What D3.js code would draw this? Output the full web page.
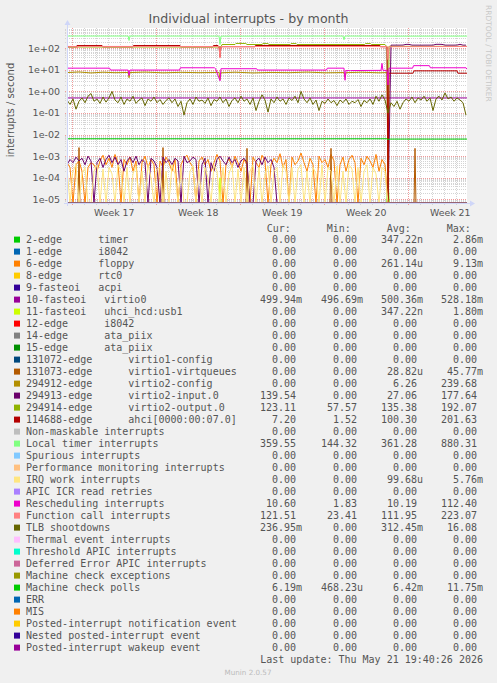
<!DOCTYPE html>
<html><head><meta charset="utf-8">
<script src="https://cdn.jsdelivr.net/npm/d3@7"></script>
<style>
html,body{margin:0;padding:0;background:#f0f0f0;}
svg{display:block;}
text{font-family:"DejaVu Sans",sans-serif;}
.mono{font-family:"DejaVu Sans Mono",monospace;font-size:10px;fill:#555;}
</style></head><body>
<svg id="c" width="497" height="683"></svg>
<script>
// ---------- DATA ----------
const titleText = "Individual interrupts - by month";
const yAxisLabel = "interrupts / second";
const yTickValues = [1e-5, 1e-4, 1e-3, 1e-2, 1e-1, 1e0, 1e1, 1e2];
const yTickLabels = ["1e-05","1e-04","1e-03","1e-02","1e-01","1e+00","1e+01","1e+02"];
const startTime = Date.UTC(2026, 3, 18, 13, 30);
const endTime = Date.UTC(2026, 4, 21, 21, 30);

const legendLabels = [
 "2-edge      timer","1-edge      i8042","6-edge      floppy","8-edge      rtc0","9-fasteoi   acpi",
 "10-fasteoi   virtio0","11-fasteoi   uhci_hcd:usb1","12-edge      i8042","14-edge      ata_piix","15-edge      ata_piix",
 "131072-edge      virtio1-config","131073-edge      virtio1-virtqueues","294912-edge      virtio2-config",
 "294913-edge      virtio2-input.0","294914-edge      virtio2-output.0","114688-edge      ahci[0000:00:07.0]",
 "Non-maskable interrupts","Local timer interrupts","Spurious interrupts","Performance monitoring interrupts",
 "IRQ work interrupts","APIC ICR read retries","Rescheduling interrupts","Function call interrupts","TLB shootdowns",
 "Thermal event interrupts","Threshold APIC interrupts","Deferred Error APIC interrupts","Machine check exceptions",
 "Machine check polls","ERR","MIS","Posted-interrupt notification event","Nested posted-interrupt event",
 "Posted-interrupt wakeup event"];
const legendColors = ["#00CC00","#0066B3","#FF8000","#FFCC00","#330099","#990099","#CCFF00","#FF0000","#808080","#008F00",
 "#00487D","#B35A00","#B38F00","#6B006B","#8FB300","#B30000","#BEBEBE","#80FF80","#80C9FF","#FFC080","#FFE680",
 "#AA80FF","#EE00CC","#FF8080","#666600","#FFBFFF","#00FFCC","#CC6699","#999900","#00CC00","#0066B3","#FF8000",
 "#FFCC00","#330099","#990099"];
const curVals = ["0.00","0.00","0.00","0.00","0.00","499.94m","0.00","0.00","0.00","0.00","0.00","0.00","0.00","139.54","123.11","7.20","0.00","359.55","0.00","0.00","0.00","0.00","10.60","121.51","236.95m","0.00","0.00","0.00","0.00","6.19m","0.00","0.00","0.00","0.00","0.00"];
const minVals = ["0.00","0.00","0.00","0.00","0.00","496.69m","0.00","0.00","0.00","0.00","0.00","0.00","0.00","0.00","57.57","1.52","0.00","144.32","0.00","0.00","0.00","0.00","1.83","23.41","0.00","0.00","0.00","0.00","0.00","468.23u","0.00","0.00","0.00","0.00","0.00"];
const avgVals = ["347.22n","0.00","261.14u","0.00","0.00","500.36m","347.22n","0.00","0.00","0.00","0.00","28.82u","6.26","27.06","135.38","100.30","0.00","361.28","0.00","0.00","99.68u","0.00","10.19","111.95","312.45m","0.00","0.00","0.00","0.00","6.42m","0.00","0.00","0.00","0.00","0.00"];
const maxVals = ["2.86m","0.00","9.13m","0.00","0.00","528.18m","1.80m","0.00","0.00","0.00","0.00","45.77m","239.68","177.64","192.07","201.63","0.00","880.31","0.00","0.00","5.76m","0.00","112.40","223.07","16.08","0.00","0.00","0.00","0.00","11.75m","0.00","0.00","0.00","0.00","0.00"];

// sample grid for noisy series: one sample every 6 hours (days from start)
const gridDays = d3.range(134).map(i => i * 0.25);

const tlbVals = [
 0.40,0.25,0.45,0.15,0.35,0.50,0.30,0.60,0.80,0.35,
 0.45,0.28,0.55,0.32,0.50,1.00,0.40,0.30,0.55,0.25,
 0.45,0.35,0.60,0.28,0.40,0.50,0.22,0.45,0.35,0.55,
 0.30,0.42,0.25,0.38,0.50,0.30,0.45,0.20,0.35,0.08,
 0.30,0.45,0.25,0.55,0.35,0.40,0.28,0.50,0.22,0.42,
 0.35,0.55,0.30,0.45,0.20,0.38,0.50,0.30,0.60,0.35,
 0.45,0.25,0.50,0.13,0.35,0.70,0.40,0.11,0.45,0.30,
 0.55,0.35,0.45,0.25,0.50,0.38,0.60,0.30,1.00,0.45,
 0.30,0.50,0.25,0.40,0.13,0.35,0.28,0.45,0.30,0.38,
 0.22,0.40,0.30,0.45,0.25,0.35,0.30,0.42,0.20,0.38,
 0.30,0.45,0.25,0.60,0.35,0.70,0.40,0.10,
 0.30,0.20,0.35,0.15,0.30,0.45,0.35,0.55,0.30,0.50,0.40,0.60,
 0.35,0.50,0.13,0.45,0.60,0.40,0.85,0.45,0.55,0.35,0.50,0.40,0.30,0.08];

const floppyVals = [
 5e-4,3e-4,0,4e-4,6e-4,2e-4,0,3e-4,5e-4,4e-4,
 2e-4,6e-4,1.1e-3,4e-4,8e-4,3e-4,1.2e-3,5e-4,0,7e-4,
 4e-4,9e-4,2e-4,6e-4,0,5e-4,1e-3,3e-4,7e-4,4e-4,
 0,6e-4,3e-4,9e-4,5e-4,2e-4,7e-4,0,4e-4,8e-4,
 1.1e-3,5e-4,3e-4,0,6e-4,9e-4,4e-4,7e-4,2e-4,5e-4,
 1.2e-3,6e-4,0,4e-4,8e-4,3e-4,1e-3,5e-4,2e-4,7e-4,
 4e-4,0,9e-4,5e-4,3e-4,1.1e-3,6e-4,0,4e-4,8e-4,
 5e-4,1.3e-3,3e-4,7e-4,0,9e-4,4e-4,6e-4,1.4e-3,5e-4,
 2e-4,8e-4,4e-4,0,1e-3,5e-4,7e-4,3e-4,1.2e-3,6e-4,
 0,4e-4,9e-4,2e-4,7e-4,1.1e-3,5e-4,0,8e-4,4e-4,
 1e-3,6e-4,3e-4,1.2e-3,2e-4,7e-4,4e-4,
 0,0,0,0,0,0,0,0,0,0,0,0,0,0,0,0,0,0,0,0,0,0,0,0,0,0,0];

const irqWorkVals = [
 3e-4,0,2e-4,4e-4,0,1.5e-4,3e-4,0,0,2e-4,
 4e-4,0,2.5e-4,0,3e-4,1.5e-4,0,4e-4,2e-4,0,
 3e-4,0,1.5e-4,3.5e-4,0,2e-4,0,4e-4,1e-4,0,
 2.5e-4,3e-4,0,2e-4,0,4e-4,1.5e-4,0,3e-4,0,
 0,2e-4,3.5e-4,0,2.5e-4,0,3e-4,1e-4,0,4e-4,
 2e-4,0,3e-4,0,1.5e-4,4e-4,0,2.5e-4,0,3e-4,
 0,2e-4,4e-4,0,3e-4,0,1.5e-4,3.5e-4,0,2e-4,
 3e-4,0,4e-4,2e-4,0,3e-4,0,2.5e-4,4e-4,0,
 2e-4,0,3e-4,1.5e-4,0,4e-4,0,3e-4,2e-4,0,
 3.5e-4,0,2e-4,0,4e-4,2.5e-4,0,3e-4,0,2e-4,
 4e-4,0,3e-4,1.5e-4,0,3e-4,2e-4,
 0,0,0,0,0,0,0,0,0,0,0,0,0,0,0,0,0,0,0,0,0,0,0,0,0,0,0];

const virtio2InputVals = [
 4e-4,7e-4,5e-4,9e-4,6e-4,8e-4,4e-4,1e-3,6e-4,0,
 5e-4,8e-4,3e-4,7e-4,1.1e-3,5e-4,9e-4,4e-4,7e-4,2e-4,
 6e-4,9e-4,5e-4,1e-3,4e-4,7e-4,5e-4,0,8e-4,6e-4,
 3e-4,0,9e-4,5e-4,7e-4,4e-4,8e-4,6e-4,0,1e-3,
 5e-4,6e-4,9e-4,7e-4,0,4e-4,8e-4,0,5e-4,2e-4,
 7e-4,1e-3,6e-4,4e-4,9e-4,5e-4,7e-4,3e-4,6e-4,8e-4,
 5e-4,0,0,6e-4,8e-4,4e-4,9e-4,5e-4,7e-4,3e-4,
 0,0,0,0,0,0,0,0,0,0,0,0,0,0,0,0,0,0,0,0,
 0,0,0,0,0,0,0,0,0,0,0,0,0,0,0,0,0,0,
 140,140,140,140,141,152,152,140,140,140,139,140,140,140,140,153,153,152,140,140,140,140,141,153,140,140];

// sparse series: [days from start], [values]
const localTimerDays = [0, 5.1, 5.17, 5.25, 12.67, 12.75, 12.83, 23.0, 23.08, 23.17, 26.75, 33.34];
const localTimerVals = [370, 370, 230, 370, 368, 150, 365, 370, 250, 370, 365, 368];
const funcCallDays = [0, 0.8, 0.85, 0.9, 12.67, 12.75, 12.83, 26.67, 26.75, 26.83, 33.34];
const funcCallVals = [122, 122, 100, 122, 121, 35, 121, 120, 30, 118, 121];
const ahciDays = [0, 0.8, 0.83, 2.92, 2.95, 5.5, 5.53, 9.42, 9.45, 12.17, 12.2, 12.58, 12.67, 12.75, 12.83, 15.67, 15.7, 26.08, 26.12, 26.67, 26.75, 26.83, 28.83, 28.92, 32.5, 32.58, 33.34];
const ahciVals = [118, 118, 135, 135, 118, 118, 135, 135, 118, 118, 135, 135, 118, 40, 118, 118, 135, 135, 118, 118, 0, 7, 7, 9, 9, 7, 7];
const virtio2OutDays = [0, 12.83, 12.92, 14.0, 14.08, 14.9, 15.0, 16.25, 16.33, 16.75, 16.83, 18.6, 18.67, 19.1, 19.17, 24.8, 24.87, 25.3, 25.37, 26.5, 26.67, 26.75, 26.83, 33.34];
const virtio2OutVals = [115, 115, 150, 150, 168, 168, 150, 150, 165, 165, 150, 150, 165, 165, 150, 150, 165, 165, 150, 150, 115, 0, 123, 123];
const reschedDays = [0, 3.55, 3.62, 5.1, 5.17, 5.25, 9.38, 9.45, 12.3, 12.38, 12.75, 12.83, 15.8, 15.88, 21.62, 21.7, 23.08, 23.17, 23.25, 23.55, 23.62, 26.17, 26.25, 26.33, 26.67, 26.75, 26.83, 28.8, 28.88, 30.2, 30.28, 33.25, 33.34];
const reschedVals = [12, 12, 9.8, 9.8, 5.5, 9.8, 9.8, 12.5, 12.5, 11.3, 3.1, 11.3, 11.3, 9.8, 9.8, 12, 12, 3.3, 9.3, 9.3, 9.3, 9.5, 20, 9.5, 9.5, 2, 12, 12, 15.7, 15.7, 12.5, 12.5, 10.6];
const virtio2CfgDays = [0, 1, 2, 3, 4, 5.1, 5.17, 5.25, 6.5, 8, 9.5, 11, 12.67, 12.75, 12.83, 14, 15.5, 17, 18.5, 20, 21.5, 23.08, 23.17, 23.25, 24.5, 26, 26.67, 26.75, 33.34];
const virtio2CfgVals = [7.5, 8, 7.2, 7.8, 7.4, 7.6, 4.3, 7.5, 7.9, 7.3, 7.7, 7.4, 7.6, 3.5, 7.3, 7.8, 7.2, 7.6, 7.4, 7.9, 7.3, 7.5, 4.5, 7.4, 7.8, 7.3, 7.5, 0, 0];
const virtio0Days = [0, 33.34];
const virtio0Vals = [0.5, 0.5];
const mcPollDays = [0, 26.67, 26.75, 26.83, 33.34];
const mcPollVals = [0.0064, 0.0064, 0.0058, 0.0062, 0.0062];
const vqueueDays = [0, 0.92, 1.0, 1.08, 7.92, 8.0, 8.08, 14.92, 15.0, 15.08, 21.92, 22.0, 22.08, 28.92, 29.0, 29.08, 33.34];
const vqueueVals = [0, 0, 2.5e-3, 0, 0, 2.5e-3, 0, 0, 2.3e-3, 0, 0, 2.3e-3, 0, 0, 2.3e-3, 0, 0];
const timerDays = [0, 26.67, 26.75, 26.83, 33.34];
const timerVals = [0, 0, 1.8e-4, 0, 0];
const uhciDays = [0, 12.67, 12.75, 12.83, 26.67, 26.75, 26.83, 33.34];
const uhciVals = [0, 0, 1e-4, 0, 0, 1e-4, 0, 0];
const zeroDays = [0, 33.34];
const zeroVals = [0, 0];

// ---------- LAYOUT ----------
const plotL = 67, plotR = 467, plotT = 28, plotB = 203;
const DAY = 864e5;
const svg = d3.select("#c");
svg.append("rect").attr("width",497).attr("height",683).attr("fill","#f0f0f0");
svg.append("rect").attr("x",plotL).attr("y",plotT).attr("width",plotR-plotL).attr("height",plotB-plotT).attr("fill","#ffffff");

const x = d3.scaleUtc().domain([new Date(startTime), new Date(endTime)]).range([plotL, plotR]);
const y = d3.scaleLog().domain([1e-5, 1e2]).range([199.3, 48.3]);
const zeroY = plotB + 0.3;
const yc = v => (v > 0 ? Math.max(plotT, Math.min(zeroY, y(v))) : zeroY);
const xd = d => x(new Date(startTime + d * DAY));

// grid
const grid = svg.append("g");
const minorCol = "#d4d4d4", majorCol = "#f09a9a";
for (let e = -6; e <= 2; e++) {
  for (let k = 2; k <= 9; k++) {
    const v = k * Math.pow(10, e), yy = y(v);
    if (yy < plotT || yy > plotB) continue;
    grid.append("line").attr("x1",plotL-2).attr("x2",plotR).attr("y1",Math.round(yy)+0.5).attr("y2",Math.round(yy)+0.5)
      .attr("stroke",minorCol).attr("stroke-dasharray","1,1");
  }
}
d3.utcDay.range(x.domain()[0], x.domain()[1]).forEach(d => {
  const xx = Math.round(x(d)) + 0.5;
  grid.append("line").attr("x1",xx).attr("x2",xx).attr("y1",plotT).attr("y2",plotB+2)
    .attr("stroke",minorCol).attr("stroke-dasharray","1,1");
});
yTickValues.forEach(v => {
  const yy = Math.round(y(v)) + 0.5;
  grid.append("line").attr("x1",plotL-2).attr("x2",plotR).attr("y1",yy).attr("y2",yy)
    .attr("stroke",majorCol).attr("stroke-dasharray","1,1");
});
const weekStarts = d3.utcSunday.range(x.domain()[0], x.domain()[1]);
weekStarts.forEach(d => {
  const xx = Math.round(x(d)) + 0.5;
  grid.append("line").attr("x1",xx).attr("x2",xx).attr("y1",plotT).attr("y2",plotB+3)
    .attr("stroke",majorCol).attr("stroke-dasharray","1,1");
});

// series
svg.append("clipPath").attr("id","clip").append("rect")
  .attr("x",plotL).attr("y",plotT).attr("width",plotR-plotL).attr("height",plotB-plotT+0.5);
const seriesData = [
  [timerDays, timerVals], [zeroDays, zeroVals], [gridDays, floppyVals], [zeroDays, zeroVals], [zeroDays, zeroVals],
  [virtio0Days, virtio0Vals], [uhciDays, uhciVals], [zeroDays, zeroVals], [zeroDays, zeroVals], [zeroDays, zeroVals],
  [zeroDays, zeroVals], [vqueueDays, vqueueVals], [virtio2CfgDays, virtio2CfgVals], [gridDays, virtio2InputVals],
  [virtio2OutDays, virtio2OutVals], [ahciDays, ahciVals], [zeroDays, zeroVals], [localTimerDays, localTimerVals],
  [zeroDays, zeroVals], [zeroDays, zeroVals], [gridDays, irqWorkVals], [zeroDays, zeroVals], [reschedDays, reschedVals],
  [funcCallDays, funcCallVals], [gridDays, tlbVals], [zeroDays, zeroVals], [zeroDays, zeroVals], [zeroDays, zeroVals],
  [zeroDays, zeroVals], [mcPollDays, mcPollVals], [zeroDays, zeroVals], [zeroDays, zeroVals], [zeroDays, zeroVals],
  [zeroDays, zeroVals], [zeroDays, zeroVals]];
const lines = svg.append("g").attr("clip-path","url(#clip)");
const lineGen = d3.line().x(p => p[0]).y(p => p[1]);
seriesData.forEach(([days, vals], i) => {
  const pts = days.map((d, j) => [xd(d), yc(vals[j])]);
  lines.append("path").attr("d", lineGen(pts)).attr("fill","none")
    .attr("stroke", legendColors[i]).attr("stroke-width",1);
});

// axes
const axisCol = "#cfd6f8";
svg.append("line").attr("x1",plotL-3).attr("x2",plotR+3).attr("y1",plotB+0.5).attr("y2",plotB+0.5).attr("stroke",axisCol);
svg.append("line").attr("x1",plotL+0.5).attr("x2",plotL+0.5).attr("y1",plotB+3).attr("y2",plotT-4).attr("stroke",axisCol);
svg.append("path").attr("d",`M${plotR+3},${plotB-2.5}L${plotR+8},${plotB+0.5}L${plotR+3},${plotB+3.5}Z`).attr("fill",axisCol);
svg.append("path").attr("d",`M${plotL-2.5},${plotT-3}L${plotL+0.5},${plotT-8}L${plotL+3.5},${plotT-3}Z`).attr("fill",axisCol);

const textCol = "#555";
// y tick labels
yTickValues.forEach((v, i) => {
  svg.append("text").attr("x",60).attr("y",y(v)+3.4).attr("text-anchor","end")
    .attr("font-size","9.5px").attr("fill",textCol).text(yTickLabels[i]);
});
// x labels
const fmtWeek = d3.utcFormat("%V");
weekStarts.forEach(d => {
  const lab = new Date(+d + 3.5 * DAY);
  if (+d > endTime - 3.5 * DAY) return;
  svg.append("text").attr("x",x(lab)).attr("y",216).attr("text-anchor","middle")
    .attr("font-size","9.4px").attr("fill",textCol).text("Week " + fmtWeek(lab));
});

// title, labels
svg.append("text").attr("x",248.5).attr("y",23).attr("text-anchor","middle").attr("font-size","12.6px")
  .attr("fill",textCol).text(titleText);
svg.append("text").attr("transform","translate(14,110) rotate(-90)").attr("text-anchor","middle")
  .attr("font-size","10px").attr("fill",textCol).text(yAxisLabel);
svg.append("text").attr("transform","translate(486,5) rotate(90)").attr("text-anchor","start")
  .attr("font-size","7.5px").attr("fill","#c8c8c8").text("RRDTOOL / TOBI OETIKER");

// legend
const nb = s => s.replace(/ /g, "\u00A0");
const lg = svg.append("g");
[["Cur:",266.7],["Min:",326.7],["Avg:",386.7],["Max:",446.7]].forEach(([t, xx]) => {
  lg.append("text").attr("class","mono").attr("x",xx).attr("y",231.8).text(t);
});
const numEnds = [296, 357, 417, 477];
legendLabels.forEach((lab, i) => {
  const cy = 239.3 + 12 * i;
  lg.append("rect").attr("x",14).attr("y",cy-2.7).attr("width",6).attr("height",6).attr("fill",legendColors[i]);
  lg.append("text").attr("class","mono").attr("x",26).attr("y",cy+3.5).text(nb(lab));
  [curVals[i], minVals[i], avgVals[i], maxVals[i]].forEach((s, k) => {
    const m = s.match(/^([\d.]+)([a-zA-Z]?)$/);
    lg.append("text").attr("class","mono").attr("x",numEnds[k]).attr("y",cy+3.5).attr("text-anchor","end").text(m[1]);
    if (m[2]) lg.append("text").attr("class","mono").attr("x",numEnds[k]).attr("y",cy+3.5).text(m[2]);
  });
});
lg.append("text").attr("class","mono").attr("x",483).attr("y",662.8).attr("text-anchor","end")
  .text(nb("Last update: Thu May 21 19:40:26 2026"));
svg.append("text").attr("x",248).attr("y",674.5).attr("text-anchor","middle").attr("font-size","7.2px")
  .attr("fill","#bbbbbb").text("Munin 2.0.57");
</script></body></html>
